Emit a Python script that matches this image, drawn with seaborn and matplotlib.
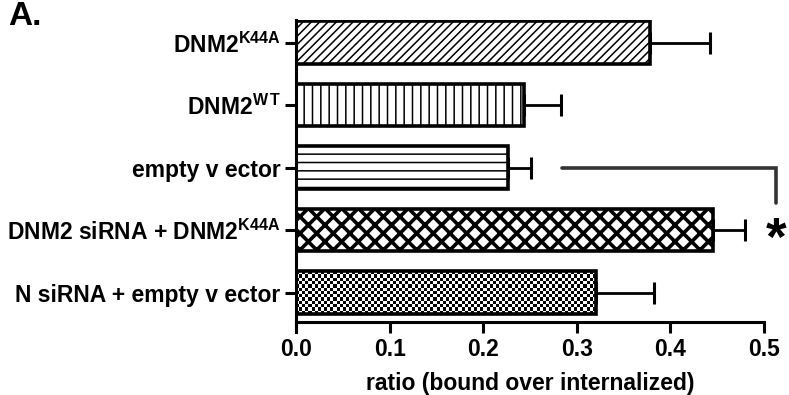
import numpy as np
import pandas as pd
import matplotlib
matplotlib.use("Agg")
import matplotlib.pyplot as plt
import seaborn as sns

# Mean ratio (bound over internalized) with SEM for each condition
conditions = [
    r"DNM2$^{\mathrm{K44A}}$",
    r"DNM2$^{\mathrm{W\,T}}$",
    "empty v ector",
    r"DNM2 siRNA + DNM2$^{\mathrm{K44A}}$",
    "N siRNA + empty v ector",
]
ratio_mean = [0.378, 0.244, 0.226, 0.445, 0.320]
ratio_sem = [0.064, 0.039, 0.025, 0.035, 0.063]
x_ticks = [0.0, 0.1, 0.2, 0.3, 0.4, 0.5]
x_tick_labels = ["0.0", "0.1", "0.2", "0.3", "0.4", "0.5"]
hatches = ["////", "||", "--", "xx", None]

sns.set_theme(style="white")
plt.rcParams["font.family"] = ["Liberation Sans", "DejaVu Sans"]
plt.rcParams["font.weight"] = "bold"
plt.rcParams["text.color"] = "black"
plt.rcParams["axes.labelcolor"] = "black"
plt.rcParams["mathtext.fontset"] = "custom"
plt.rcParams["mathtext.rm"] = "Liberation Sans:bold"
plt.rcParams["mathtext.it"] = "Liberation Sans:bold"
plt.rcParams["mathtext.bf"] = "Liberation Sans:bold"
plt.rcParams["hatch.color"] = "black"
plt.rcParams["hatch.linewidth"] = 1.1

df = pd.DataFrame({"condition": conditions, "ratio": ratio_mean})

fig = plt.figure(figsize=(7.89, 3.95), dpi=100)
W, H = 789, 395
left, right, top, bottom = 296, 764, 20, 332
ax = fig.add_axes([left / W, 1 - bottom / H, (right - left) / W, (bottom - top) / H])

sns.barplot(data=df, x="ratio", y="condition", orient="h", color="white",
            edgecolor="black", linewidth=2.6, width=0.68, errorbar=None, ax=ax)

for i, patch in enumerate(ax.patches):
    patch.set_facecolor("white")
    if hatches[i]:
        patch.set_hatch(hatches[i])
    if hatches[i] == "xx":
        try:
            patch.set_hatch_linewidth(2.6)
        except AttributeError:
            pass

# Checkerboard fill for the last bar, clipped to the bar outline
last = ax.patches[4]
bx, by = last.get_x(), last.get_y()
bw, bh = last.get_width(), last.get_height()
ncols, nrows = 96, 13
board = (np.add.outer(np.arange(nrows), np.arange(ncols)) % 2).astype(float)
img = ax.imshow(board, cmap="gray", vmin=0, vmax=1, aspect="auto",
                extent=(bx, bx + bw, by + bh, by), interpolation="nearest", zorder=1.5)
img.set_clip_path(last)
last.set_zorder(2)
last.set_facecolor("none")

# One-sided error bars (SEM)
ypos = np.arange(len(conditions))
ax.errorbar(ratio_mean, ypos, xerr=[np.zeros(len(ratio_sem)), ratio_sem],
            fmt="none", ecolor="black", elinewidth=2.0, capsize=8, capthick=2.2, zorder=3)

ax.set_xlim(0, 0.5)
ax.set_ylim(4.63, -0.36)
ax.set_xticks(x_ticks)
ax.set_xticklabels(x_tick_labels)
ax.set_xlabel("ratio (bound over internalized)", fontsize=16.5, fontweight="bold",
              labelpad=8, color="black")
ax.set_ylabel("")

sns.despine(ax=ax)
for s in ["left", "bottom"]:
    ax.spines[s].set_linewidth(2.2)
    ax.spines[s].set_color("black")
ax.spines["bottom"].set_position(("outward", -7))
ax.tick_params(axis="both", which="major", direction="out", length=8, width=2.2,
               color="black", labelcolor="black", labelsize=16.5, pad=3,
               bottom=True, left=True)
for lbl in ax.get_xticklabels() + ax.get_yticklabels():
    lbl.set_fontweight("bold")

# Significance bracket between empty vector and DNM2 siRNA + DNM2K44A
ax.plot([0.284, 0.513, 0.513], [2.0, 2.0, 2.57], color="#333333", lw=2.6,
        clip_on=False, solid_joinstyle="miter", zorder=4)
ax.text(0.5125, 3.17, "*", fontsize=38, fontweight="bold", ha="center", va="center",
        color="black", clip_on=False)

fig.text(8 / W, 1 - 1 / H, "A.", fontsize=24, fontweight="bold", ha="left", va="top",
         color="black")

fig.savefig("out.png", dpi=100)
